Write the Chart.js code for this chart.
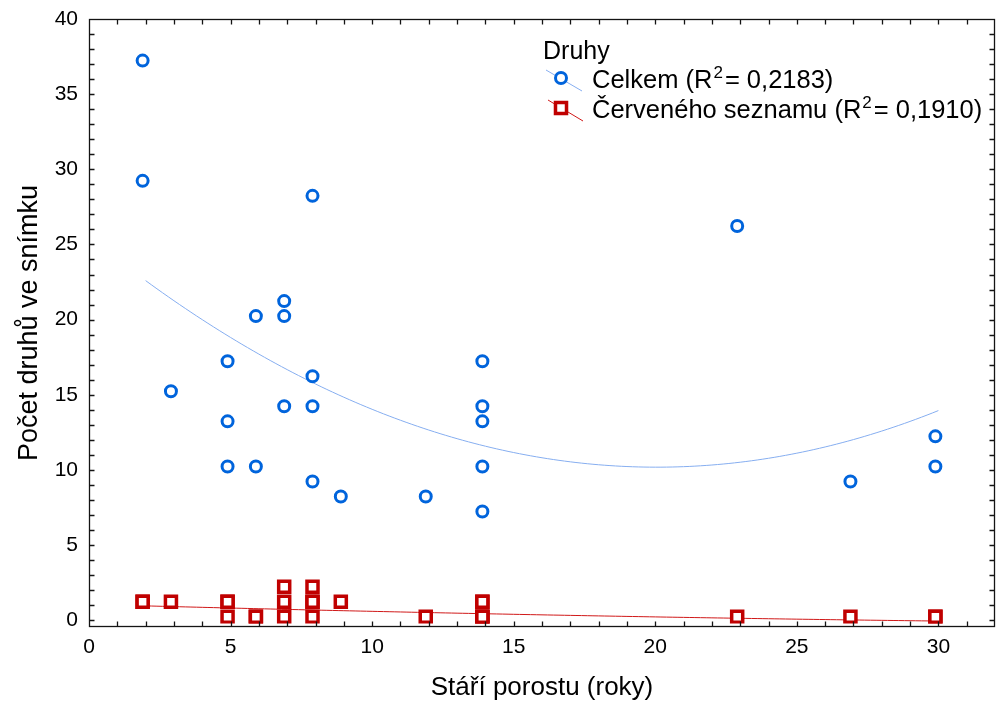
<!DOCTYPE html>
<html>
<head>
<meta charset="utf-8">
<script src="https://cdn.jsdelivr.net/npm/chart.js@4.4.0/dist/chart.umd.min.js"></script>
<style>
  html, body { margin: 0; padding: 0; background: #fff; }
  canvas { display: block; }
</style>
</head>
<body>
<canvas id="chart" width="1000" height="707"></canvas>
<script>
// Stand age (years) for each relevé, with total and red-list species counts
const ageYears       = [2, 2, 3, 5, 5, 5, 6, 6, 7, 7, 7, 8, 8, 8, 8, 9, 12, 14, 14, 14, 14, 14, 23, 27, 30, 30];
const speciesTotal   = [37, 29, 15, 17, 13, 10, 20, 10, 21, 20, 14, 28, 16, 14, 9, 8, 8, 17, 14, 13, 10, 7, 26, 9, 12, 10];
const speciesRedList = [1, 1, 1, 1, 1, 0, 0, 0, 2, 1, 0, 2, 1, 1, 0, 1, 0, 1, 1, 0, 0, 0, 0, 0, 0, 0];

const xTickValues = [0, 5, 10, 15, 20, 25, 30];
const yTickValues = [0, 5, 10, 15, 20, 25, 30, 35, 40];

const legendTitle = 'Druhy';
const seriesNames = ['Celkem', 'Červeného seznamu'];
const r2Labels    = ['0,2183', '0,1910'];

const FONT = '"Liberation Sans", Arial, sans-serif';
const BLUE = '#0064dc';
const BLUE_FIT = '#86aef0';
const RED = '#c00000';
const RED_FIT = '#d01818';

// Least-squares quadratic y = c0 + c1*x + c2*x^2
function quadFit(xs, ys) {
  let s = [0, 0, 0, 0, 0], t = [0, 0, 0];
  xs.forEach((x, i) => {
    let p = 1;
    for (let k = 0; k < 5; k++) { s[k] += p; p *= x; }
    t[0] += ys[i]; t[1] += ys[i] * x; t[2] += ys[i] * x * x;
  });
  const m = [[s[0], s[1], s[2], t[0]], [s[1], s[2], s[3], t[1]], [s[2], s[3], s[4], t[2]]];
  for (let i = 0; i < 3; i++) {
    for (let j = i + 1; j < 3; j++) {
      const f = m[j][i] / m[i][i];
      for (let k = i; k < 4; k++) m[j][k] -= f * m[i][k];
    }
  }
  const c = [0, 0, 0];
  for (let i = 2; i >= 0; i--) {
    let v = m[i][3];
    for (let k = i + 1; k < 3; k++) v -= m[i][k] * c[k];
    c[i] = v / m[i][i];
  }
  return c;
}

function fitCurve(xs, ys) {
  const c = quadFit(xs, ys);
  const x0 = Math.min(...xs), x1 = Math.max(...xs), n = 140;
  const pts = [];
  for (let i = 0; i <= n; i++) {
    const x = x0 + (x1 - x0) * i / n;
    pts.push({ x, y: c[0] + c[1] * x + c[2] * x * x });
  }
  return pts;
}

const toPoints = ys => ageYears.map((x, i) => ({ x, y: ys[i] }));

// Marker glyphs sit slightly up-left of their anchor point
const markerNudge = {
  id: 'markerNudge',
  beforeDatasetDraw(chart, args) {
    if (chart.data.datasets[args.index].type === 'line') return;
    chart.ctx.save();
    chart.ctx.translate(-3, -3.5);
  },
  afterDatasetDraw(chart, args) {
    if (chart.data.datasets[args.index].type === 'line') return;
    chart.ctx.restore();
  }
};

// Box frame with inward ticks on all four sides
const framePlugin = {
  id: 'frame',
  afterDatasetsDraw(chart) {
    const { ctx, chartArea: a, scales: { x, y } } = chart;
    const L = Math.round(a.left) + 0.5, R = Math.round(a.right) - 0.5;
    const T = Math.round(a.top) + 0.5, B = Math.round(a.bottom) - 0.5;
    const len = 5;
    ctx.save();
    ctx.strokeStyle = '#141414';
    ctx.lineWidth = 1.3;
    ctx.strokeRect(L, T, R - L, B - T);
    ctx.beginPath();
    for (let v = Math.ceil(x.min) + 1; v < x.max; v++) {
      const px = Math.round(x.getPixelForValue(v)) + 0.5;
      ctx.moveTo(px, B); ctx.lineTo(px, B - len);
      ctx.moveTo(px, T); ctx.lineTo(px, T + len);
    }
    for (let v = Math.ceil(y.min); v < y.max; v++) {
      const py = Math.round(y.getPixelForValue(v)) + 0.5;
      ctx.moveTo(L, py); ctx.lineTo(L + len, py);
      ctx.moveTo(R, py); ctx.lineTo(R - len, py);
    }
    ctx.stroke();
    ctx.restore();
  }
};

// Legend with superscript R² labels
const legendPlugin = {
  id: 'fitLegend',
  afterDraw(chart) {
    const { ctx } = chart;
    const ds = chart.data.datasets;
    ctx.save();
    ctx.fillStyle = '#000';
    ctx.textBaseline = 'alphabetic';
    ctx.font = '25px ' + FONT;
    ctx.fillText(legendTitle, 543, 59);

    const rows = [
      { line: ds[0], mark: ds[2], lx0: 546, ly0: 70, lx1: 582, ly1: 91, mx: 561, my: 78, base: 88 },
      { line: ds[1], mark: ds[3], lx0: 548, ly0: 100, lx1: 583, ly1: 121, mx: 561, my: 108, base: 118 }
    ];
    rows.forEach((r, i) => {
      ctx.strokeStyle = r.line.borderColor;
      ctx.lineWidth = 1;
      ctx.beginPath(); ctx.moveTo(r.lx0, r.ly0); ctx.lineTo(r.lx1, r.ly1); ctx.stroke();

      ctx.strokeStyle = r.mark.borderColor;
      ctx.fillStyle = '#fff';
      ctx.lineWidth = r.mark.borderWidth;
      ctx.beginPath();
      if (r.mark.pointStyle === 'circle') {
        ctx.arc(r.mx, r.my, r.mark.pointRadius, 0, Math.PI * 2);
      } else {
        const h = r.mark.pointRadius * Math.SQRT1_2;
        ctx.rect(r.mx - h, r.my - h, 2 * h, 2 * h);
      }
      ctx.fill(); ctx.stroke();

      ctx.fillStyle = '#000';
      let x = 592;
      ctx.font = '25.5px ' + FONT;
      const head = seriesNames[i] + ' (R';
      ctx.fillText(head, x, r.base);
      x += ctx.measureText(head).width + 1;
      ctx.font = '17px ' + FONT;
      ctx.fillText('2', x, r.base - 10);
      x += ctx.measureText('2').width + 2;
      ctx.font = '25.5px ' + FONT;
      ctx.fillText('= ' + r2Labels[i] + ')', x, r.base);
    });
    ctx.restore();
  }
};

new Chart(document.getElementById('chart'), {
  type: 'scatter',
  data: {
    datasets: [
      { type: 'line', data: fitCurve(ageYears, speciesTotal), borderColor: BLUE_FIT, borderWidth: 1,
        pointRadius: 0, fill: false, tension: 0, order: 3 },
      { type: 'line', data: fitCurve(ageYears, speciesRedList), borderColor: RED_FIT, borderWidth: 1,
        pointRadius: 0, fill: false, tension: 0, order: 3 },
      { label: seriesNames[0], data: toPoints(speciesTotal), pointStyle: 'circle', pointRadius: 5.5,
        borderWidth: 3, borderColor: BLUE, backgroundColor: '#fff', order: 1 },
      { label: seriesNames[1], data: toPoints(speciesRedList), pointStyle: 'rect', pointRadius: 7.8,
        borderWidth: 3.5, borderColor: RED, backgroundColor: '#fff', order: 1 }
    ]
  },
  options: {
    responsive: false,
    animation: false,
    devicePixelRatio: 1,
    layout: { autoPadding: false, padding: { top: 19, right: 5, left: 0, bottom: 0 } },
    plugins: { legend: { display: false }, tooltip: { enabled: false } },
    scales: {
      x: {
        type: 'linear', min: 0, max: 32,
        grid: { display: false, drawTicks: false }, border: { display: false },
        afterBuildTicks: s => { s.ticks = xTickValues.map(v => ({ value: v })); },
        afterFit: s => { s.height = 80; s.paddingLeft = 0; s.paddingRight = 0; },
        ticks: { padding: 8, color: '#000', font: { family: FONT, size: 21 }, maxRotation: 0,
                 autoSkip: false, callback: v => String(v) },
        title: { display: true, text: 'Stáří porostu (roky)', color: '#000',
                 font: { family: FONT, size: 26 }, padding: { top: 0, bottom: 4 } }
      },
      y: {
        type: 'linear', min: -0.45, max: 40,
        grid: { display: false, drawTicks: false }, border: { display: false },
        afterBuildTicks: s => { s.ticks = yTickValues.map(v => ({ value: v })); },
        afterFit: s => { s.width = 89; s.paddingTop = 0; s.paddingBottom = 0; },
        ticks: { padding: 11, color: '#000', font: { family: FONT, size: 21 },
                 autoSkip: false, callback: v => String(v) },
        title: { display: true, text: 'Počet druhů ve snímku', color: '#000',
                 font: { family: FONT, size: 27 }, padding: { top: 13, bottom: 0 } }
      }
    }
  },
  plugins: [markerNudge, framePlugin, legendPlugin]
});
</script>
</body>
</html>
